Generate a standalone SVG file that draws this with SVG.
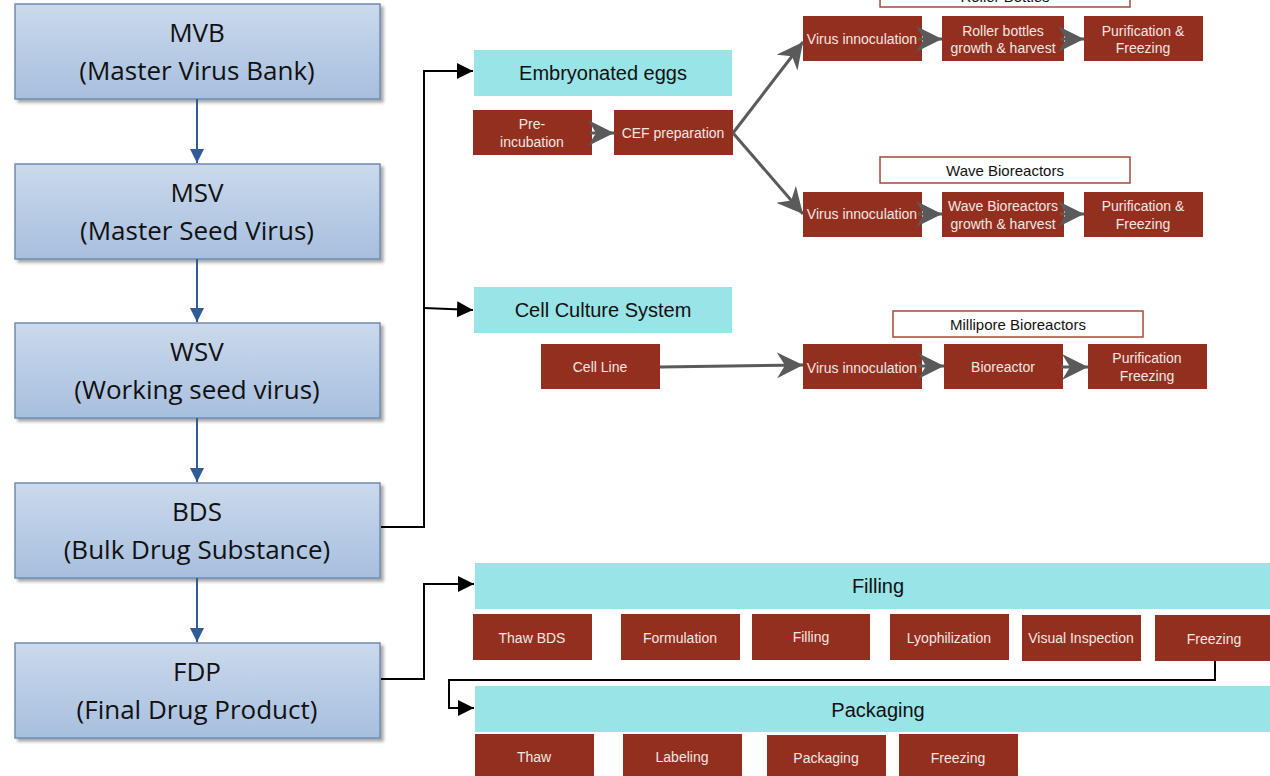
<svg xmlns="http://www.w3.org/2000/svg" width="1270" height="776" viewBox="0 0 1270 776">
<defs>
<linearGradient id="blueGrad" x1="0" y1="0" x2="0" y2="1">
<stop offset="0" stop-color="#cbd9ec"/>
<stop offset="1" stop-color="#a7bfde"/>
</linearGradient>
<filter id="shadow" x="-5%" y="-5%" width="115%" height="120%">
<feDropShadow dx="3" dy="3" stdDeviation="1.5" flood-color="#555" flood-opacity="0.5"/>
</filter>
<marker id="blueHead" markerUnits="userSpaceOnUse" markerWidth="16" markerHeight="16" refX="14" refY="7" orient="auto">
<path d="M0,0 L14,7 L0,14 z" fill="#2f5c94"/>
</marker>
<marker id="blackHead" markerUnits="userSpaceOnUse" markerWidth="18" markerHeight="18" refX="16" refY="8" orient="auto">
<path d="M0,0 L16,8 L0,16 z" fill="#000"/>
</marker>
<marker id="grayHead" markerUnits="userSpaceOnUse" markerWidth="28" markerHeight="28" refX="26" refY="13" orient="auto">
<path d="M0,0 L26,13 L0,26 L8,13 z" fill="#5a5a5a"/>
</marker>
<style>
.lbox{fill:url(#blueGrad);stroke:#6f8db5;stroke-width:1.5;filter:url(#shadow)}
.ltxt{font-family:"Open Sans","Liberation Sans",Arial,sans-serif;font-size:26px;fill:#111;text-anchor:middle}
.red{fill:#922f1f}
.rtxt{font-family:"Liberation Sans",Arial,sans-serif;font-size:14px;fill:#f3e6e2;text-anchor:middle}
.cyan{fill:#99e4e6}
.ctxt{font-family:"Liberation Sans",Arial,sans-serif;font-size:20px;fill:#111;text-anchor:middle}
.wbox{fill:#fff;stroke:#a8473a;stroke-width:1.5}
.wtxt{font-family:"Liberation Sans",Arial,sans-serif;font-size:15px;fill:#111;text-anchor:middle}
.blue{stroke:#2f5c94;stroke-width:2;fill:none}
.blk{stroke:#000;stroke-width:2;fill:none}
.gray{stroke:#5a5a5a;stroke-width:3;fill:none}
</style>
</defs>

<g id="MVB"><rect class="lbox" x="15" y="4" width="365" height="95"/><text class="ltxt" x="197" y="42">MVB</text><text class="ltxt" x="197" y="80">(Master Virus Bank)</text></g>
<g id="MSV"><rect class="lbox" x="15" y="164" width="365" height="95"/><text class="ltxt" x="197" y="202">MSV</text><text class="ltxt" x="197" y="240">(Master Seed Virus)</text></g>
<g id="WSV"><rect class="lbox" x="15" y="323" width="365" height="95"/><text class="ltxt" x="197" y="361">WSV</text><text class="ltxt" x="197" y="399">(Working seed virus)</text></g>
<g id="BDS"><rect class="lbox" x="15" y="483" width="365" height="95"/><text class="ltxt" x="197" y="521">BDS</text><text class="ltxt" x="197" y="559">(Bulk Drug Substance)</text></g>
<g id="FDP"><rect class="lbox" x="15" y="643" width="365" height="95"/><text class="ltxt" x="197" y="681">FDP</text><text class="ltxt" x="197" y="719">(Final Drug Product)</text></g>

<g id="embryonated"><rect class="cyan" x="474" y="50" width="258" height="46"/><text class="ctxt" x="603" y="80">Embryonated eggs</text></g>
<g id="preinc"><rect class="red" x="473" y="110" width="119" height="45"/><text class="rtxt" x="532" y="129">Pre-</text><text class="rtxt" x="532" y="147">incubation</text></g>
<g id="cef"><rect class="red" x="614" y="110" width="119" height="45"/><text class="rtxt" x="673" y="138">CEF preparation</text></g>

<g id="rollerLabel"><rect class="wbox" x="880" y="-20" width="250" height="27"/><text class="wtxt" x="1005" y="2">Roller Bottles</text></g>
<g id="virus1"><rect class="red" x="803" y="16" width="119" height="45"/><text class="rtxt" x="862" y="44">Virus innoculation</text></g>
<g id="roller"><rect class="red" x="942" y="16" width="122" height="45"/><text class="rtxt" x="1003" y="36">Roller bottles</text><text class="rtxt" x="1003" y="53">growth &amp; harvest</text></g>
<g id="purif1"><rect class="red" x="1084" y="16" width="119" height="45"/><text class="rtxt" x="1143" y="36">Purification &amp;</text><text class="rtxt" x="1143" y="53">Freezing</text></g>

<g id="waveLabel"><rect class="wbox" x="880" y="157" width="250" height="26"/><text class="wtxt" x="1005" y="176">Wave Bioreactors</text></g>
<g id="virus2"><rect class="red" x="803" y="192" width="119" height="45"/><text class="rtxt" x="862" y="219">Virus innoculation</text></g>
<g id="wave"><rect class="red" x="942" y="192" width="122" height="45"/><text class="rtxt" x="1003" y="211">Wave Bioreactors</text><text class="rtxt" x="1003" y="229">growth &amp; harvest</text></g>
<g id="purif2"><rect class="red" x="1084" y="192" width="119" height="45"/><text class="rtxt" x="1143" y="211">Purification &amp;</text><text class="rtxt" x="1143" y="229">Freezing</text></g>

<g id="cellCulture"><rect class="cyan" x="474" y="287" width="258" height="46"/><text class="ctxt" x="603" y="317">Cell Culture System</text></g>
<g id="milliporeLabel"><rect class="wbox" x="893" y="311" width="250" height="26"/><text class="wtxt" x="1018" y="330">Millipore Bioreactors</text></g>
<g id="cellLine"><rect class="red" x="541" y="344" width="119" height="45"/><text class="rtxt" x="600" y="372">Cell Line</text></g>
<g id="virus3"><rect class="red" x="803" y="344" width="119" height="45"/><text class="rtxt" x="862" y="373">Virus innoculation</text></g>
<g id="bioreactor"><rect class="red" x="944" y="344" width="119" height="45"/><text class="rtxt" x="1003" y="372">Bioreactor</text></g>
<g id="purif3"><rect class="red" x="1088" y="344" width="119" height="45"/><text class="rtxt" x="1147" y="363">Purification</text><text class="rtxt" x="1147" y="381">Freezing</text></g>

<g id="fillingHeader"><rect class="cyan" x="475" y="563" width="795" height="46"/><text class="ctxt" x="878" y="593">Filling</text></g>
<g id="thawBDS"><rect class="red" x="473" y="614" width="119" height="46"/><text class="rtxt" x="532" y="643">Thaw BDS</text></g>
<g id="formulation"><rect class="red" x="621" y="614" width="119" height="46"/><text class="rtxt" x="680" y="643">Formulation</text></g>
<g id="filling"><rect class="red" x="752" y="614" width="118" height="46"/><text class="rtxt" x="811" y="642">Filling</text></g>
<g id="lyophilization"><rect class="red" x="890" y="614" width="119" height="46"/><text class="rtxt" x="949" y="643">Lyophilization</text></g>
<g id="visual"><rect class="red" x="1022" y="615" width="119" height="46"/><text class="rtxt" x="1081" y="643">Visual Inspection</text></g>
<g id="freezing1"><rect class="red" x="1155" y="615" width="115" height="46"/><text class="rtxt" x="1214" y="644">Freezing</text></g>

<g id="packagingHeader"><rect class="cyan" x="475" y="686" width="795" height="46"/><text class="ctxt" x="878" y="717">Packaging</text></g>
<g id="thaw"><rect class="red" x="475" y="734" width="119" height="50"/><text class="rtxt" x="534" y="762">Thaw</text></g>
<g id="labeling"><rect class="red" x="623" y="734" width="119" height="50"/><text class="rtxt" x="682" y="762">Labeling</text></g>
<g id="packaging"><rect class="red" x="767" y="735" width="119" height="50"/><text class="rtxt" x="826" y="763">Packaging</text></g>
<g id="freezing2"><rect class="red" x="899" y="734" width="119" height="50"/><text class="rtxt" x="958" y="763">Freezing</text></g>

<g id="connectors">
<path class="blue" d="M197,99 L197,163" marker-end="url(#blueHead)"/>
<path class="blue" d="M197,259 L197,322" marker-end="url(#blueHead)"/>
<path class="blue" d="M197,418 L197,482" marker-end="url(#blueHead)"/>
<path class="blue" d="M197,578 L197,642" marker-end="url(#blueHead)"/>
<path class="blk" d="M381,527 L424,527 L424,71 L473,71" marker-end="url(#blackHead)"/>
<path class="blk" d="M424,308 L473,310" marker-end="url(#blackHead)"/>
<path class="blk" d="M381,679 L424,679 L424,584 L474,584" marker-end="url(#blackHead)"/>
<path class="blk" d="M1215,661 L1215,680 L449,680 L449,708 L474,708" marker-end="url(#blackHead)"/>
<path class="gray" d="M590,133 L614,133" marker-end="url(#grayHead)"/>
<path class="gray" d="M733,133 L803,42" marker-end="url(#grayHead)"/>
<path class="gray" d="M733,133 L803,214" marker-end="url(#grayHead)"/>
<path class="gray" d="M918,39 L942,39" marker-end="url(#grayHead)"/>
<path class="gray" d="M1060,39 L1084,39" marker-end="url(#grayHead)"/>
<path class="gray" d="M918,214 L942,214" marker-end="url(#grayHead)"/>
<path class="gray" d="M1060,214 L1084,214" marker-end="url(#grayHead)"/>
<path class="gray" d="M660,367 L803,365" marker-end="url(#grayHead)"/>
<path class="gray" d="M918,366 L944,366" marker-end="url(#grayHead)"/>
<path class="gray" d="M1061,367 L1088,367" marker-end="url(#grayHead)"/>
</g>
</svg>
